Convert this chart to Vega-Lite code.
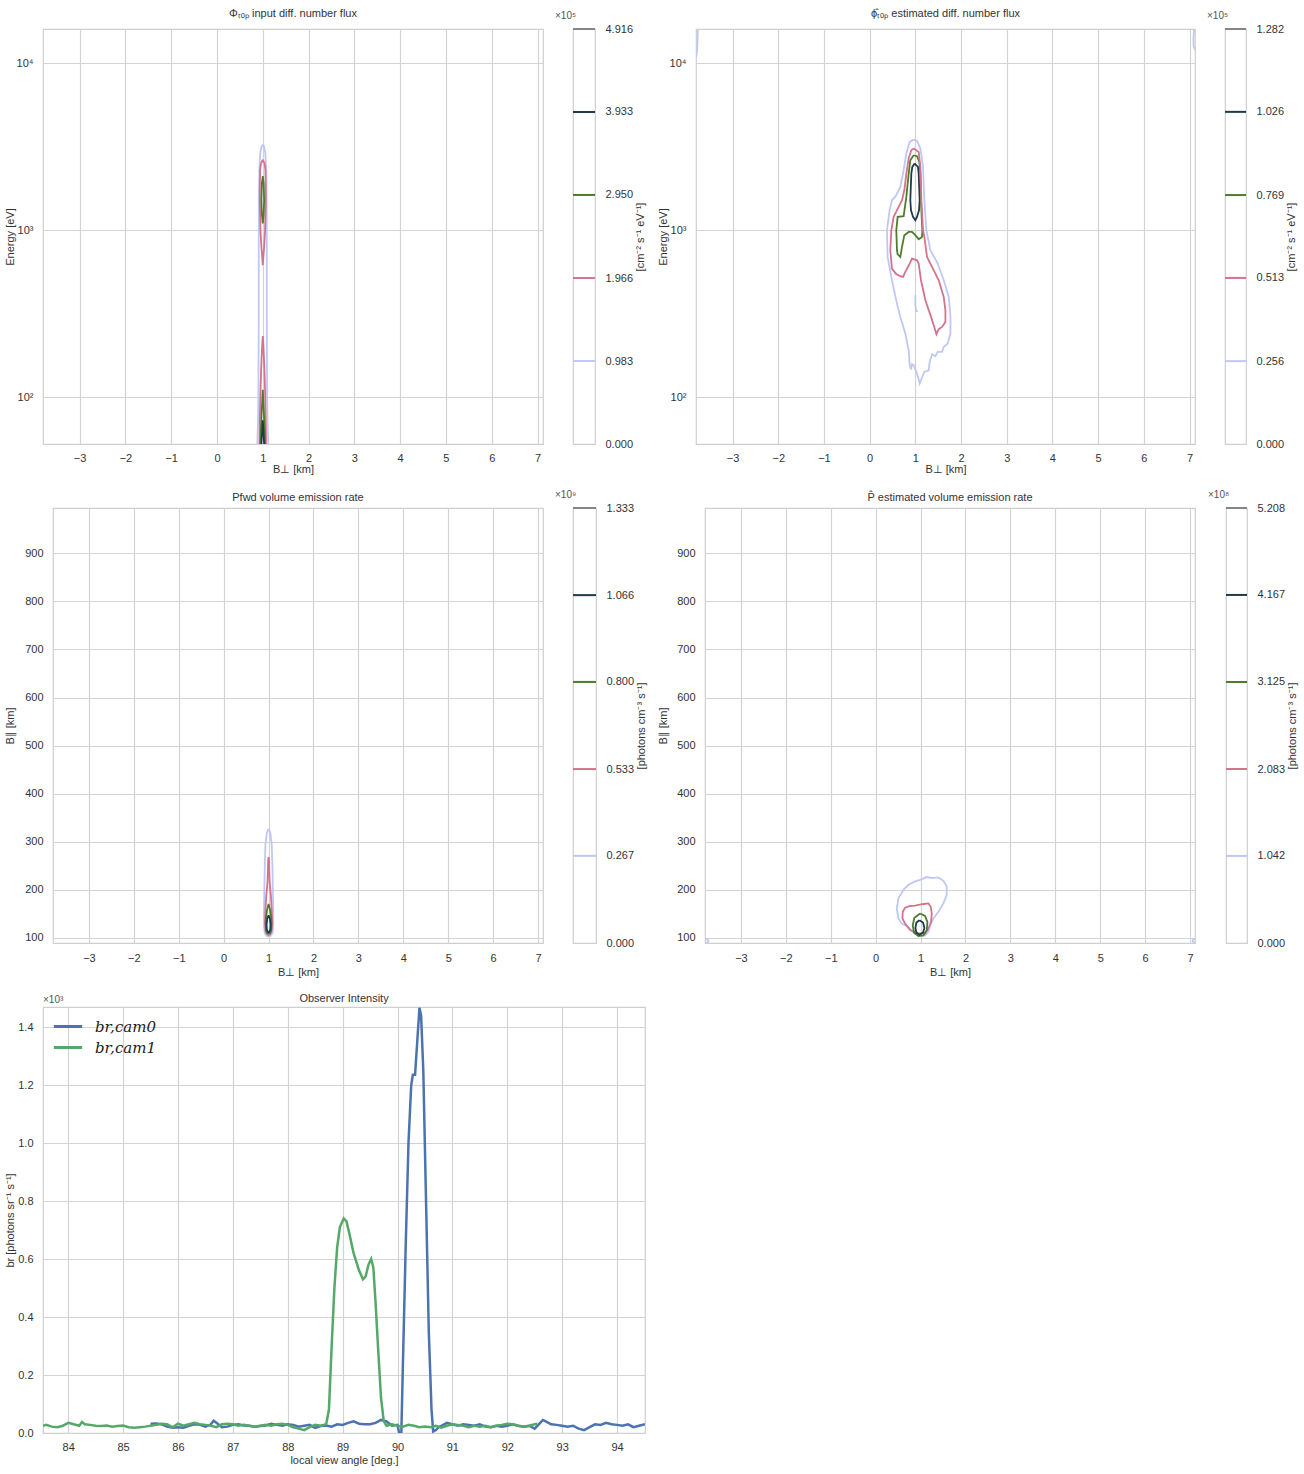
{
"$schema": "https://vega.github.io/schema/vega-lite/v6.json",
"autosize": "none",
"background": "white",
"padding": {"left": 43, "top": 29, "right": 1261, "bottom": 1445},
"config": {
 "font": "Liberation Sans",
 "view": {"stroke": "#cfcfcf", "strokeWidth": 1.2},
 "axis": {"domain": false, "ticks": false, "grid": true, "gridColor": "#d3d3d3", "gridWidth": 1.2, "labelFontSize": 11, "labelColor": "#333333", "titleFontSize": 11, "titleFontWeight": "normal", "titleColor": "#333333", "labelPadding": 8, "titlePadding": 0},
 "title": {"fontSize": 11, "fontWeight": "normal", "color": "#333333", "offset": 10}
},
"datasets": {
 "p1": [
  {"s":"L","l":"1","i":0,"x":0.88,"y":52.6},{"s":"L","l":"1","i":1,"x":0.895,"y":70},{"s":"L","l":"1","i":2,"x":0.905,"y":100},{"s":"L","l":"1","i":3,"x":0.912,"y":300},{"s":"L","l":"1","i":4,"x":0.912,"y":800},{"s":"L","l":"1","i":5,"x":0.915,"y":1500},{"s":"L","l":"1","i":6,"x":0.925,"y":2300},{"s":"L","l":"1","i":7,"x":0.945,"y":2900},{"s":"L","l":"1","i":8,"x":0.975,"y":3180},{"s":"L","l":"1","i":9,"x":1.0,"y":3230},{"s":"L","l":"1","i":10,"x":1.025,"y":3180},{"s":"L","l":"1","i":11,"x":1.055,"y":2900},{"s":"L","l":"1","i":12,"x":1.075,"y":2300},{"s":"L","l":"1","i":13,"x":1.085,"y":1500},{"s":"L","l":"1","i":14,"x":1.088,"y":800},{"s":"L","l":"1","i":15,"x":1.088,"y":300},{"s":"L","l":"1","i":16,"x":1.095,"y":100},{"s":"L","l":"1","i":17,"x":1.105,"y":70},{"s":"L","l":"1","i":18,"x":1.12,"y":52.6},
  {"s":"Pu","l":"2","i":0,"x":1.0,"y":2645},{"s":"Pu","l":"2","i":1,"x":1.04,"y":2500},{"s":"Pu","l":"2","i":2,"x":1.058,"y":2290},{"s":"Pu","l":"2","i":3,"x":1.065,"y":1800},{"s":"Pu","l":"2","i":4,"x":1.065,"y":1450},{"s":"Pu","l":"2","i":5,"x":1.055,"y":1150},{"s":"Pu","l":"2","i":6,"x":1.05,"y":1000},{"s":"Pu","l":"2","i":7,"x":1.03,"y":795},{"s":"Pu","l":"2","i":8,"x":1.01,"y":680},{"s":"Pu","l":"2","i":9,"x":1.0,"y":617},{"s":"Pu","l":"2","i":10,"x":0.99,"y":680},{"s":"Pu","l":"2","i":11,"x":0.97,"y":795},{"s":"Pu","l":"2","i":12,"x":0.95,"y":1000},{"s":"Pu","l":"2","i":13,"x":0.945,"y":1150},{"s":"Pu","l":"2","i":14,"x":0.935,"y":1450},{"s":"Pu","l":"2","i":15,"x":0.935,"y":1800},{"s":"Pu","l":"2","i":16,"x":0.942,"y":2290},{"s":"Pu","l":"2","i":17,"x":0.96,"y":2500},{"s":"Pu","l":"2","i":18,"x":1.0,"y":2645},
  {"s":"Pl","l":"2","i":0,"x":0.928,"y":52.6},{"s":"Pl","l":"2","i":1,"x":0.935,"y":73},{"s":"Pl","l":"2","i":2,"x":0.95,"y":110},{"s":"Pl","l":"2","i":3,"x":0.964,"y":146},{"s":"Pl","l":"2","i":4,"x":0.985,"y":200},{"s":"Pl","l":"2","i":5,"x":1.0,"y":233},{"s":"Pl","l":"2","i":6,"x":1.015,"y":200},{"s":"Pl","l":"2","i":7,"x":1.036,"y":146},{"s":"Pl","l":"2","i":8,"x":1.05,"y":110},{"s":"Pl","l":"2","i":9,"x":1.065,"y":73},{"s":"Pl","l":"2","i":10,"x":1.072,"y":52.6},
  {"s":"Gu","l":"3","i":0,"x":1.0,"y":2110},{"s":"Gu","l":"3","i":1,"x":1.02,"y":1900},{"s":"Gu","l":"3","i":2,"x":1.03,"y":1510},{"s":"Gu","l":"3","i":3,"x":1.02,"y":1250},{"s":"Gu","l":"3","i":4,"x":1.0,"y":1100},{"s":"Gu","l":"3","i":5,"x":0.98,"y":1250},{"s":"Gu","l":"3","i":6,"x":0.97,"y":1510},{"s":"Gu","l":"3","i":7,"x":0.98,"y":1900},{"s":"Gu","l":"3","i":8,"x":1.0,"y":2110},
  {"s":"Gl","l":"3","i":0,"x":0.95,"y":52.6},{"s":"Gl","l":"3","i":1,"x":0.96,"y":65},{"s":"Gl","l":"3","i":2,"x":0.975,"y":80},{"s":"Gl","l":"3","i":3,"x":1.0,"y":111},{"s":"Gl","l":"3","i":4,"x":1.025,"y":80},{"s":"Gl","l":"3","i":5,"x":1.04,"y":65},{"s":"Gl","l":"3","i":6,"x":1.05,"y":52.6},
  {"s":"N","l":"4","i":0,"x":0.97,"y":52.6},{"s":"N","l":"4","i":1,"x":0.985,"y":62},{"s":"N","l":"4","i":2,"x":1.0,"y":73},{"s":"N","l":"4","i":3,"x":1.015,"y":62},{"s":"N","l":"4","i":4,"x":1.03,"y":52.6}
 ],
 "p2": [
  {"s":"N","l":"4","i":0,"x":0.985,"y":2506},{"s":"N","l":"4","i":1,"x":1.058,"y":2393},{"s":"N","l":"4","i":2,"x":1.073,"y":2183},{"s":"N","l":"4","i":3,"x":1.095,"y":1512},{"s":"N","l":"4","i":4,"x":1.08,"y":1317},{"s":"N","l":"4","i":5,"x":1.037,"y":1202},{"s":"N","l":"4","i":6,"x":1.0,"y":1148},{"s":"N","l":"4","i":7,"x":0.949,"y":1202},{"s":"N","l":"4","i":8,"x":0.905,"y":1317},{"s":"N","l":"4","i":9,"x":0.89,"y":1512},{"s":"N","l":"4","i":10,"x":0.912,"y":2183},{"s":"N","l":"4","i":11,"x":0.934,"y":2393},{"s":"N","l":"4","i":12,"x":0.985,"y":2506},
  {"s":"G","l":"3","i":0,"x":0.963,"y":2810},{"s":"G","l":"3","i":1,"x":1.037,"y":2772},{"s":"G","l":"3","i":2,"x":1.088,"y":2564},{"s":"G","l":"3","i":3,"x":1.11,"y":2183},{"s":"G","l":"3","i":4,"x":1.124,"y":1512},{"s":"G","l":"3","i":5,"x":1.139,"y":1202},{"s":"G","l":"3","i":6,"x":1.154,"y":1000},{"s":"G","l":"3","i":7,"x":1.146,"y":912},{"s":"G","l":"3","i":8,"x":1.073,"y":884},{"s":"G","l":"3","i":9,"x":1.0,"y":934},{"s":"G","l":"3","i":10,"x":0.927,"y":977},{"s":"G","l":"3","i":11,"x":0.854,"y":977},{"s":"G","l":"3","i":12,"x":0.759,"y":934},{"s":"G","l":"3","i":13,"x":0.708,"y":795},{"s":"G","l":"3","i":14,"x":0.671,"y":692},{"s":"G","l":"3","i":15,"x":0.613,"y":718},{"s":"G","l":"3","i":16,"x":0.598,"y":759},{"s":"G","l":"3","i":17,"x":0.583,"y":1000},{"s":"G","l":"3","i":18,"x":0.613,"y":1202},{"s":"G","l":"3","i":19,"x":0.744,"y":1213},{"s":"G","l":"3","i":20,"x":0.803,"y":1583},{"s":"G","l":"3","i":21,"x":0.854,"y":2183},{"s":"G","l":"3","i":22,"x":0.89,"y":2624},{"s":"G","l":"3","i":23,"x":0.963,"y":2810},
  {"s":"P","l":"2","i":0,"x":0.963,"y":3081},{"s":"P","l":"2","i":1,"x":1.073,"y":2942},{"s":"P","l":"2","i":2,"x":1.11,"y":2393},{"s":"P","l":"2","i":3,"x":1.132,"y":1512},{"s":"P","l":"2","i":4,"x":1.168,"y":1000},{"s":"P","l":"2","i":5,"x":1.197,"y":912},{"s":"P","l":"2","i":6,"x":1.256,"y":692},{"s":"P","l":"2","i":7,"x":1.365,"y":604},{"s":"P","l":"2","i":8,"x":1.512,"y":502},{"s":"P","l":"2","i":9,"x":1.621,"y":399},{"s":"P","l":"2","i":10,"x":1.658,"y":332},{"s":"P","l":"2","i":11,"x":1.658,"y":283},{"s":"P","l":"2","i":12,"x":1.585,"y":264},{"s":"P","l":"2","i":13,"x":1.512,"y":256},{"s":"P","l":"2","i":14,"x":1.461,"y":239},{"s":"P","l":"2","i":15,"x":1.402,"y":270},{"s":"P","l":"2","i":16,"x":1.344,"y":303},{"s":"P","l":"2","i":17,"x":1.219,"y":381},{"s":"P","l":"2","i":18,"x":1.124,"y":502},{"s":"P","l":"2","i":19,"x":1.073,"y":632},{"s":"P","l":"2","i":20,"x":1.037,"y":661},{"s":"P","l":"2","i":21,"x":0.927,"y":677},{"s":"P","l":"2","i":22,"x":0.876,"y":632},{"s":"P","l":"2","i":23,"x":0.781,"y":563},{"s":"P","l":"2","i":24,"x":0.73,"y":526},{"s":"P","l":"2","i":25,"x":0.671,"y":531},{"s":"P","l":"2","i":26,"x":0.583,"y":546},{"s":"P","l":"2","i":27,"x":0.488,"y":590},{"s":"P","l":"2","i":28,"x":0.452,"y":759},{"s":"P","l":"2","i":29,"x":0.474,"y":1000},{"s":"P","l":"2","i":30,"x":0.525,"y":1202},{"s":"P","l":"2","i":31,"x":0.635,"y":1379},{"s":"P","l":"2","i":32,"x":0.708,"y":1512},{"s":"P","l":"2","i":33,"x":0.759,"y":1735},{"s":"P","l":"2","i":34,"x":0.803,"y":2183},{"s":"P","l":"2","i":35,"x":0.854,"y":2685},{"s":"P","l":"2","i":36,"x":0.912,"y":3011},{"s":"P","l":"2","i":37,"x":0.963,"y":3081},
  {"s":"L","l":"1","i":0,"x":0.963,"y":3487},{"s":"L","l":"1","i":1,"x":1.037,"y":3424},{"s":"L","l":"1","i":2,"x":1.11,"y":3081},{"s":"L","l":"1","i":3,"x":1.168,"y":2393},{"s":"L","l":"1","i":4,"x":1.197,"y":1512},{"s":"L","l":"1","i":5,"x":1.241,"y":1000},{"s":"L","l":"1","i":6,"x":1.329,"y":759},{"s":"L","l":"1","i":7,"x":1.49,"y":632},{"s":"L","l":"1","i":8,"x":1.621,"y":502},{"s":"L","l":"1","i":9,"x":1.731,"y":399},{"s":"L","l":"1","i":10,"x":1.768,"y":303},{"s":"L","l":"1","i":11,"x":1.768,"y":241},{"s":"L","l":"1","i":12,"x":1.709,"y":210},{"s":"L","l":"1","i":13,"x":1.621,"y":200},{"s":"L","l":"1","i":14,"x":1.585,"y":187},{"s":"L","l":"1","i":15,"x":1.49,"y":187},{"s":"L","l":"1","i":16,"x":1.439,"y":176},{"s":"L","l":"1","i":17,"x":1.365,"y":181},{"s":"L","l":"1","i":18,"x":1.314,"y":163},{"s":"L","l":"1","i":19,"x":1.292,"y":145},{"s":"L","l":"1","i":20,"x":1.197,"y":142},{"s":"L","l":"1","i":21,"x":1.124,"y":127},{"s":"L","l":"1","i":22,"x":1.095,"y":121},{"s":"L","l":"1","i":23,"x":1.058,"y":133},{"s":"L","l":"1","i":24,"x":1.022,"y":142},{"s":"L","l":"1","i":25,"x":0.963,"y":156},{"s":"L","l":"1","i":26,"x":0.927,"y":158},{"s":"L","l":"1","i":27,"x":0.905,"y":147},{"s":"L","l":"1","i":28,"x":0.876,"y":156},{"s":"L","l":"1","i":29,"x":0.854,"y":191},{"s":"L","l":"1","i":30,"x":0.781,"y":241},{"s":"L","l":"1","i":31,"x":0.671,"y":303},{"s":"L","l":"1","i":32,"x":0.598,"y":364},{"s":"L","l":"1","i":33,"x":0.488,"y":502},{"s":"L","l":"1","i":34,"x":0.393,"y":692},{"s":"L","l":"1","i":35,"x":0.379,"y":1000},{"s":"L","l":"1","i":36,"x":0.437,"y":1317},{"s":"L","l":"1","i":37,"x":0.488,"y":1512},{"s":"L","l":"1","i":38,"x":0.561,"y":1583},{"s":"L","l":"1","i":39,"x":0.671,"y":1817},{"s":"L","l":"1","i":40,"x":0.744,"y":2286},{"s":"L","l":"1","i":41,"x":0.803,"y":2876},{"s":"L","l":"1","i":42,"x":0.876,"y":3377},{"s":"L","l":"1","i":43,"x":0.963,"y":3487},
  {"s":"Ls","l":"1","i":0,"x":1.0,"y":408},{"s":"Ls","l":"1","i":1,"x":1.0,"y":356},{"s":"Ls","l":"1","i":2,"x":1.015,"y":329},{"s":"Ls","l":"1","i":3,"x":1.058,"y":327},
  {"s":"Lc1","l":"1","i":0,"x":-3.76,"y":16000},{"s":"Lc1","l":"1","i":1,"x":-3.765,"y":14000},{"s":"Lc1","l":"1","i":2,"x":-3.78,"y":11500},{"s":"Lc1","l":"1","i":3,"x":-3.8,"y":10800},
  {"s":"Lc2","l":"1","i":0,"x":7.1,"y":16000},{"s":"Lc2","l":"1","i":1,"x":7.085,"y":14000},{"s":"Lc2","l":"1","i":2,"x":7.09,"y":12600},{"s":"Lc2","l":"1","i":3,"x":7.12,"y":12000}
 ],
 "p3": [
  {"s":"L","l":"1","i":0,"x":1.0,"y":327},{"s":"L","l":"1","i":1,"x":1.04,"y":318},{"s":"L","l":"1","i":2,"x":1.07,"y":295},{"s":"L","l":"1","i":3,"x":1.085,"y":250},{"s":"L","l":"1","i":4,"x":1.095,"y":200},{"s":"L","l":"1","i":5,"x":1.105,"y":150},{"s":"L","l":"1","i":6,"x":1.105,"y":125},{"s":"L","l":"1","i":7,"x":1.085,"y":110},{"s":"L","l":"1","i":8,"x":1.04,"y":104},{"s":"L","l":"1","i":9,"x":1.0,"y":103},{"s":"L","l":"1","i":10,"x":0.96,"y":104},{"s":"L","l":"1","i":11,"x":0.915,"y":110},{"s":"L","l":"1","i":12,"x":0.895,"y":125},{"s":"L","l":"1","i":13,"x":0.895,"y":150},{"s":"L","l":"1","i":14,"x":0.905,"y":200},{"s":"L","l":"1","i":15,"x":0.915,"y":250},{"s":"L","l":"1","i":16,"x":0.93,"y":295},{"s":"L","l":"1","i":17,"x":0.96,"y":318},{"s":"L","l":"1","i":18,"x":1.0,"y":327},
  {"s":"P","l":"2","i":0,"x":1.0,"y":268},{"s":"P","l":"2","i":1,"x":1.01,"y":262},{"s":"P","l":"2","i":2,"x":1.015,"y":240},{"s":"P","l":"2","i":3,"x":1.025,"y":215},{"s":"P","l":"2","i":4,"x":1.05,"y":190},{"s":"P","l":"2","i":5,"x":1.07,"y":160},{"s":"P","l":"2","i":6,"x":1.08,"y":135},{"s":"P","l":"2","i":7,"x":1.07,"y":115},{"s":"P","l":"2","i":8,"x":1.04,"y":108},{"s":"P","l":"2","i":9,"x":1.0,"y":106},{"s":"P","l":"2","i":10,"x":0.96,"y":108},{"s":"P","l":"2","i":11,"x":0.93,"y":115},{"s":"P","l":"2","i":12,"x":0.92,"y":135},{"s":"P","l":"2","i":13,"x":0.93,"y":160},{"s":"P","l":"2","i":14,"x":0.95,"y":190},{"s":"P","l":"2","i":15,"x":0.975,"y":215},{"s":"P","l":"2","i":16,"x":0.985,"y":240},{"s":"P","l":"2","i":17,"x":0.99,"y":262},{"s":"P","l":"2","i":18,"x":1.0,"y":268},
  {"s":"G","l":"3","i":0,"x":1.0,"y":171},{"s":"G","l":"3","i":1,"x":1.03,"y":160},{"s":"G","l":"3","i":2,"x":1.055,"y":145},{"s":"G","l":"3","i":3,"x":1.065,"y":130},{"s":"G","l":"3","i":4,"x":1.055,"y":115},{"s":"G","l":"3","i":5,"x":1.03,"y":110},{"s":"G","l":"3","i":6,"x":1.0,"y":109},{"s":"G","l":"3","i":7,"x":0.97,"y":110},{"s":"G","l":"3","i":8,"x":0.945,"y":115},{"s":"G","l":"3","i":9,"x":0.935,"y":130},{"s":"G","l":"3","i":10,"x":0.945,"y":145},{"s":"G","l":"3","i":11,"x":0.97,"y":160},{"s":"G","l":"3","i":12,"x":1.0,"y":171},
  {"s":"N","l":"4","i":0,"x":1.0,"y":147},{"s":"N","l":"4","i":1,"x":1.03,"y":140},{"s":"N","l":"4","i":2,"x":1.045,"y":128},{"s":"N","l":"4","i":3,"x":1.04,"y":118},{"s":"N","l":"4","i":4,"x":1.02,"y":113},{"s":"N","l":"4","i":5,"x":1.0,"y":112},{"s":"N","l":"4","i":6,"x":0.98,"y":113},{"s":"N","l":"4","i":7,"x":0.96,"y":118},{"s":"N","l":"4","i":8,"x":0.955,"y":128},{"s":"N","l":"4","i":9,"x":0.97,"y":140},{"s":"N","l":"4","i":10,"x":1.0,"y":147}
 ],
 "p4": [
  {"s":"L","l":"1","i":0,"x":0.989,"y":104.2},{"s":"L","l":"1","i":1,"x":0.951,"y":105.5},{"s":"L","l":"1","i":2,"x":0.84,"y":111.1},{"s":"L","l":"1","i":3,"x":0.729,"y":123.1},{"s":"L","l":"1","i":4,"x":0.581,"y":130},{"s":"L","l":"1","i":5,"x":0.507,"y":140.5},{"s":"L","l":"1","i":6,"x":0.47,"y":161.5},{"s":"L","l":"1","i":7,"x":0.507,"y":182.6},{"s":"L","l":"1","i":8,"x":0.617,"y":200},{"s":"L","l":"1","i":9,"x":0.729,"y":210.5},{"s":"L","l":"1","i":10,"x":0.877,"y":217.6},{"s":"L","l":"1","i":11,"x":0.989,"y":221},{"s":"L","l":"1","i":12,"x":1.138,"y":226.7},{"s":"L","l":"1","i":13,"x":1.249,"y":224.6},{"s":"L","l":"1","i":14,"x":1.397,"y":226},{"s":"L","l":"1","i":15,"x":1.508,"y":218.9},{"s":"L","l":"1","i":16,"x":1.583,"y":207},{"s":"L","l":"1","i":17,"x":1.583,"y":189.5},{"s":"L","l":"1","i":18,"x":1.508,"y":172},{"s":"L","l":"1","i":19,"x":1.397,"y":154.6},{"s":"L","l":"1","i":20,"x":1.286,"y":140.5},{"s":"L","l":"1","i":21,"x":1.212,"y":126.5},{"s":"L","l":"1","i":22,"x":1.174,"y":112.6},{"s":"L","l":"1","i":23,"x":1.1,"y":105.5},{"s":"L","l":"1","i":24,"x":0.989,"y":104.2},
  {"s":"P","l":"2","i":0,"x":0.951,"y":109.7},{"s":"P","l":"2","i":1,"x":0.766,"y":116.7},{"s":"P","l":"2","i":2,"x":0.655,"y":130},{"s":"P","l":"2","i":3,"x":0.596,"y":140.5},{"s":"P","l":"2","i":4,"x":0.603,"y":154.6},{"s":"P","l":"2","i":5,"x":0.655,"y":163},{"s":"P","l":"2","i":6,"x":0.766,"y":166.5},{"s":"P","l":"2","i":7,"x":0.877,"y":167.2},{"s":"P","l":"2","i":8,"x":1.063,"y":170.7},{"s":"P","l":"2","i":9,"x":1.174,"y":172},{"s":"P","l":"2","i":10,"x":1.226,"y":165},{"s":"P","l":"2","i":11,"x":1.249,"y":151},{"s":"P","l":"2","i":12,"x":1.234,"y":133.5},{"s":"P","l":"2","i":13,"x":1.174,"y":119.5},{"s":"P","l":"2","i":14,"x":1.1,"y":109.7},{"s":"P","l":"2","i":15,"x":0.951,"y":109.7},
  {"s":"G","l":"3","i":0,"x":0.989,"y":151},{"s":"G","l":"3","i":1,"x":1.1,"y":146.1},{"s":"G","l":"3","i":2,"x":1.152,"y":133.5},{"s":"G","l":"3","i":3,"x":1.138,"y":116},{"s":"G","l":"3","i":4,"x":1.063,"y":105.5},{"s":"G","l":"3","i":5,"x":0.951,"y":104.2},{"s":"G","l":"3","i":6,"x":0.855,"y":111.1},{"s":"G","l":"3","i":7,"x":0.825,"y":126.5},{"s":"G","l":"3","i":8,"x":0.862,"y":141.9},{"s":"G","l":"3","i":9,"x":0.989,"y":151},
  {"s":"N","l":"4","i":0,"x":0.973,"y":137},{"s":"N","l":"4","i":1,"x":1.055,"y":132.1},{"s":"N","l":"4","i":2,"x":1.085,"y":120.9},{"s":"N","l":"4","i":3,"x":1.055,"y":111.1},{"s":"N","l":"4","i":4,"x":0.973,"y":106.9},{"s":"N","l":"4","i":5,"x":0.907,"y":111.1},{"s":"N","l":"4","i":6,"x":0.885,"y":120.9},{"s":"N","l":"4","i":7,"x":0.907,"y":132.1},{"s":"N","l":"4","i":8,"x":0.973,"y":137},
  {"s":"Lc1","l":"1","i":0,"x":-3.8,"y":99},{"s":"Lc1","l":"1","i":1,"x":-3.74,"y":97},{"s":"Lc1","l":"1","i":2,"x":-3.72,"y":93},{"s":"Lc1","l":"1","i":3,"x":-3.76,"y":90},{"s":"Lc1","l":"1","i":4,"x":-3.8,"y":89.6},
  {"s":"Lc2","l":"1","i":0,"x":7.12,"y":99},{"s":"Lc2","l":"1","i":1,"x":7.07,"y":97},{"s":"Lc2","l":"1","i":2,"x":7.06,"y":93},{"s":"Lc2","l":"1","i":3,"x":7.1,"y":90},{"s":"Lc2","l":"1","i":4,"x":7.12,"y":89.6}
 ],
 "cb1": [{"v":0.983,"l":"1"},{"v":1.966,"l":"2"},{"v":2.95,"l":"3"},{"v":3.933,"l":"4"},{"v":4.916,"l":"5"}],
 "cb2": [{"v":0.256,"l":"1"},{"v":0.513,"l":"2"},{"v":0.769,"l":"3"},{"v":1.026,"l":"4"},{"v":1.282,"l":"5"}],
 "cb3": [{"v":0.267,"l":"1"},{"v":0.533,"l":"2"},{"v":0.8,"l":"3"},{"v":1.066,"l":"4"},{"v":1.333,"l":"5"}],
 "cb4": [{"v":1.042,"l":"1"},{"v":2.083,"l":"2"},{"v":3.125,"l":"3"},{"v":4.167,"l":"4"},{"v":5.208,"l":"5"}],
 "p5": [
  {"c":"br,cam0","x":85.5,"y":0.032},{"c":"br,cam0","x":85.6,"y":0.033},{"c":"br,cam0","x":85.7,"y":0.03},{"c":"br,cam0","x":85.8,"y":0.022},{"c":"br,cam0","x":85.9,"y":0.018},{"c":"br,cam0","x":86.0,"y":0.02},{"c":"br,cam0","x":86.1,"y":0.018},{"c":"br,cam0","x":86.2,"y":0.025},{"c":"br,cam0","x":86.3,"y":0.03},{"c":"br,cam0","x":86.4,"y":0.028},{"c":"br,cam0","x":86.5,"y":0.022},{"c":"br,cam0","x":86.6,"y":0.03},{"c":"br,cam0","x":86.65,"y":0.042},{"c":"br,cam0","x":86.7,"y":0.035},{"c":"br,cam0","x":86.8,"y":0.02},{"c":"br,cam0","x":86.9,"y":0.022},{"c":"br,cam0","x":87.0,"y":0.028},{"c":"br,cam0","x":87.1,"y":0.03},{"c":"br,cam0","x":87.2,"y":0.026},{"c":"br,cam0","x":87.3,"y":0.025},{"c":"br,cam0","x":87.4,"y":0.022},{"c":"br,cam0","x":87.5,"y":0.024},{"c":"br,cam0","x":87.6,"y":0.026},{"c":"br,cam0","x":87.7,"y":0.032},{"c":"br,cam0","x":87.8,"y":0.028},{"c":"br,cam0","x":87.9,"y":0.025},{"c":"br,cam0","x":88.0,"y":0.03},{"c":"br,cam0","x":88.1,"y":0.028},{"c":"br,cam0","x":88.2,"y":0.022},{"c":"br,cam0","x":88.3,"y":0.025},{"c":"br,cam0","x":88.4,"y":0.028},{"c":"br,cam0","x":88.5,"y":0.018},{"c":"br,cam0","x":88.6,"y":0.024},{"c":"br,cam0","x":88.7,"y":0.026},{"c":"br,cam0","x":88.8,"y":0.022},{"c":"br,cam0","x":88.9,"y":0.03},{"c":"br,cam0","x":89.0,"y":0.028},{"c":"br,cam0","x":89.1,"y":0.035},{"c":"br,cam0","x":89.2,"y":0.04},{"c":"br,cam0","x":89.3,"y":0.032},{"c":"br,cam0","x":89.4,"y":0.03},{"c":"br,cam0","x":89.5,"y":0.03},{"c":"br,cam0","x":89.6,"y":0.035},{"c":"br,cam0","x":89.7,"y":0.045},{"c":"br,cam0","x":89.8,"y":0.04},{"c":"br,cam0","x":89.9,"y":0.025},{"c":"br,cam0","x":90.0,"y":0.028},{"c":"br,cam0","x":90.03,"y":0.0},{"c":"br,cam0","x":90.07,"y":0.0},{"c":"br,cam0","x":90.1,"y":0.25},{"c":"br,cam0","x":90.15,"y":0.65},{"c":"br,cam0","x":90.2,"y":1.0},{"c":"br,cam0","x":90.25,"y":1.2},{"c":"br,cam0","x":90.28,"y":1.235},{"c":"br,cam0","x":90.32,"y":1.235},{"c":"br,cam0","x":90.36,"y":1.35},{"c":"br,cam0","x":90.4,"y":1.466},{"c":"br,cam0","x":90.43,"y":1.44},{"c":"br,cam0","x":90.47,"y":1.25},{"c":"br,cam0","x":90.52,"y":0.8},{"c":"br,cam0","x":90.57,"y":0.35},{"c":"br,cam0","x":90.62,"y":0.08},{"c":"br,cam0","x":90.65,"y":0.005},{"c":"br,cam0","x":90.7,"y":0.01},{"c":"br,cam0","x":90.75,"y":0.02},{"c":"br,cam0","x":90.8,"y":0.025},{"c":"br,cam0","x":90.9,"y":0.035},{"c":"br,cam0","x":91.0,"y":0.03},{"c":"br,cam0","x":91.1,"y":0.025},{"c":"br,cam0","x":91.2,"y":0.03},{"c":"br,cam0","x":91.3,"y":0.028},{"c":"br,cam0","x":91.4,"y":0.025},{"c":"br,cam0","x":91.5,"y":0.03},{"c":"br,cam0","x":91.6,"y":0.022},{"c":"br,cam0","x":91.7,"y":0.02},{"c":"br,cam0","x":91.8,"y":0.025},{"c":"br,cam0","x":91.9,"y":0.022},{"c":"br,cam0","x":92.0,"y":0.025},{"c":"br,cam0","x":92.1,"y":0.03},{"c":"br,cam0","x":92.2,"y":0.025},{"c":"br,cam0","x":92.3,"y":0.022},{"c":"br,cam0","x":92.4,"y":0.025},{"c":"br,cam0","x":92.5,"y":0.015},{"c":"br,cam0","x":92.6,"y":0.035},{"c":"br,cam0","x":92.65,"y":0.045},{"c":"br,cam0","x":92.7,"y":0.04},{"c":"br,cam0","x":92.8,"y":0.03},{"c":"br,cam0","x":92.9,"y":0.028},{"c":"br,cam0","x":93.0,"y":0.025},{"c":"br,cam0","x":93.1,"y":0.022},{"c":"br,cam0","x":93.2,"y":0.025},{"c":"br,cam0","x":93.3,"y":0.015},{"c":"br,cam0","x":93.4,"y":0.01},{"c":"br,cam0","x":93.5,"y":0.02},{"c":"br,cam0","x":93.6,"y":0.03},{"c":"br,cam0","x":93.7,"y":0.028},{"c":"br,cam0","x":93.8,"y":0.035},{"c":"br,cam0","x":93.9,"y":0.03},{"c":"br,cam0","x":94.0,"y":0.028},{"c":"br,cam0","x":94.1,"y":0.025},{"c":"br,cam0","x":94.2,"y":0.03},{"c":"br,cam0","x":94.3,"y":0.02},{"c":"br,cam0","x":94.4,"y":0.025},{"c":"br,cam0","x":94.51,"y":0.03},
  {"c":"br,cam1","x":83.54,"y":0.025},{"c":"br,cam1","x":83.6,"y":0.028},{"c":"br,cam1","x":83.7,"y":0.022},{"c":"br,cam1","x":83.8,"y":0.02},{"c":"br,cam1","x":83.9,"y":0.025},{"c":"br,cam1","x":84.0,"y":0.035},{"c":"br,cam1","x":84.1,"y":0.03},{"c":"br,cam1","x":84.2,"y":0.025},{"c":"br,cam1","x":84.25,"y":0.038},{"c":"br,cam1","x":84.3,"y":0.03},{"c":"br,cam1","x":84.4,"y":0.028},{"c":"br,cam1","x":84.5,"y":0.025},{"c":"br,cam1","x":84.6,"y":0.024},{"c":"br,cam1","x":84.7,"y":0.026},{"c":"br,cam1","x":84.8,"y":0.022},{"c":"br,cam1","x":84.9,"y":0.024},{"c":"br,cam1","x":85.0,"y":0.026},{"c":"br,cam1","x":85.1,"y":0.02},{"c":"br,cam1","x":85.2,"y":0.018},{"c":"br,cam1","x":85.3,"y":0.02},{"c":"br,cam1","x":85.4,"y":0.022},{"c":"br,cam1","x":85.5,"y":0.025},{"c":"br,cam1","x":85.6,"y":0.028},{"c":"br,cam1","x":85.7,"y":0.032},{"c":"br,cam1","x":85.8,"y":0.03},{"c":"br,cam1","x":85.9,"y":0.02},{"c":"br,cam1","x":86.0,"y":0.032},{"c":"br,cam1","x":86.1,"y":0.025},{"c":"br,cam1","x":86.2,"y":0.03},{"c":"br,cam1","x":86.3,"y":0.035},{"c":"br,cam1","x":86.4,"y":0.03},{"c":"br,cam1","x":86.5,"y":0.028},{"c":"br,cam1","x":86.6,"y":0.025},{"c":"br,cam1","x":86.7,"y":0.02},{"c":"br,cam1","x":86.8,"y":0.03},{"c":"br,cam1","x":86.9,"y":0.032},{"c":"br,cam1","x":87.0,"y":0.03},{"c":"br,cam1","x":87.1,"y":0.025},{"c":"br,cam1","x":87.2,"y":0.028},{"c":"br,cam1","x":87.3,"y":0.025},{"c":"br,cam1","x":87.4,"y":0.022},{"c":"br,cam1","x":87.5,"y":0.025},{"c":"br,cam1","x":87.6,"y":0.028},{"c":"br,cam1","x":87.7,"y":0.025},{"c":"br,cam1","x":87.8,"y":0.03},{"c":"br,cam1","x":87.9,"y":0.032},{"c":"br,cam1","x":88.0,"y":0.028},{"c":"br,cam1","x":88.1,"y":0.02},{"c":"br,cam1","x":88.2,"y":0.015},{"c":"br,cam1","x":88.3,"y":0.01},{"c":"br,cam1","x":88.4,"y":0.02},{"c":"br,cam1","x":88.5,"y":0.028},{"c":"br,cam1","x":88.6,"y":0.025},{"c":"br,cam1","x":88.7,"y":0.03},{"c":"br,cam1","x":88.75,"y":0.08},{"c":"br,cam1","x":88.8,"y":0.3},{"c":"br,cam1","x":88.85,"y":0.5},{"c":"br,cam1","x":88.9,"y":0.64},{"c":"br,cam1","x":88.95,"y":0.71},{"c":"br,cam1","x":89.02,"y":0.74},{"c":"br,cam1","x":89.07,"y":0.73},{"c":"br,cam1","x":89.12,"y":0.69},{"c":"br,cam1","x":89.2,"y":0.62},{"c":"br,cam1","x":89.3,"y":0.56},{"c":"br,cam1","x":89.37,"y":0.53},{"c":"br,cam1","x":89.42,"y":0.54},{"c":"br,cam1","x":89.47,"y":0.58},{"c":"br,cam1","x":89.52,"y":0.6},{"c":"br,cam1","x":89.56,"y":0.57},{"c":"br,cam1","x":89.6,"y":0.45},{"c":"br,cam1","x":89.65,"y":0.28},{"c":"br,cam1","x":89.7,"y":0.12},{"c":"br,cam1","x":89.75,"y":0.04},{"c":"br,cam1","x":89.8,"y":0.025},{"c":"br,cam1","x":89.9,"y":0.03},{"c":"br,cam1","x":90.0,"y":0.025},{"c":"br,cam1","x":90.1,"y":0.022},{"c":"br,cam1","x":90.2,"y":0.028},{"c":"br,cam1","x":90.3,"y":0.025},{"c":"br,cam1","x":90.4,"y":0.02},{"c":"br,cam1","x":90.5,"y":0.022},{"c":"br,cam1","x":90.6,"y":0.02},{"c":"br,cam1","x":90.7,"y":0.025},{"c":"br,cam1","x":90.8,"y":0.018},{"c":"br,cam1","x":90.9,"y":0.025},{"c":"br,cam1","x":91.0,"y":0.03},{"c":"br,cam1","x":91.1,"y":0.028},{"c":"br,cam1","x":91.2,"y":0.025},{"c":"br,cam1","x":91.3,"y":0.02},{"c":"br,cam1","x":91.4,"y":0.025},{"c":"br,cam1","x":91.5,"y":0.022},{"c":"br,cam1","x":91.6,"y":0.025},{"c":"br,cam1","x":91.7,"y":0.02},{"c":"br,cam1","x":91.8,"y":0.025},{"c":"br,cam1","x":91.9,"y":0.028},{"c":"br,cam1","x":92.0,"y":0.032},{"c":"br,cam1","x":92.1,"y":0.03},{"c":"br,cam1","x":92.2,"y":0.025},{"c":"br,cam1","x":92.3,"y":0.022},{"c":"br,cam1","x":92.4,"y":0.025},{"c":"br,cam1","x":92.5,"y":0.03},{"c":"br,cam1","x":92.55,"y":0.032}
 ]
},
"resolve": {"legend": {"stroke": "independent"}},
"spacing": 14,
"vconcat": [
 {
  "bounds": "flush",
  "spacing": 9,
  "hconcat": [
   {
    "width": 500, "height": 415,
    "title": {"text": "Φₜₒₚ input diff. number flux", "offset": 10},
    "data": {"name": "p1"},
    "mark": {"type": "line", "clip": true, "strokeWidth": 1.8},
    "encoding": {
     "x": {"field": "x", "type": "quantitative", "scale": {"domain": [-3.8, 7.12], "nice": false, "zero": false}, "axis": {"values": [-3,-2,-1,0,1,2,3,4,5,6,7], "format": "d", "title": "B⊥ [km]", "labelPadding": 8, "titlePadding": 0}},
     "y": {"field": "y", "type": "quantitative", "scale": {"type": "log", "domain": [52.6, 16000], "nice": false}, "axis": {"values": [100, 1000, 10000], "labelExpr": "datum.value == 10000 ? '10⁴' : datum.value == 1000 ? '10³' : '10²'", "title": "Energy [eV]", "labelPadding": 10, "titleX": -28}},
     "color": {"field": "l", "type": "nominal", "scale": {"domain": ["1","2","3","4","5"], "range": ["#bfc8f4","#d4738c","#4f7b2d","#1c3c4c","#858585"]}, "legend": null},
     "detail": {"field": "s"},
     "order": {"field": "i", "type": "quantitative"}
    }
   },
   {"width": 12, "height": 415, "view": {"stroke": null}, "data": {"values": [{"a": 0}]}, "mark": {"type": "point", "opacity": 0}},
   {
    "width": 22, "height": 415,
    "title": {"text": "×10⁵", "anchor": "start", "dx": -17, "fontSize": 10, "offset": 2, "color": "#555555"},
    "data": {"name": "cb1"},
    "mark": {"type": "rule", "strokeWidth": 2},
    "encoding": {
     "y": {"field": "v", "type": "quantitative", "scale": {"domain": [0, 4.916], "nice": false, "zero": false}, "axis": {"orient": "right", "values": [0, 0.983, 1.966, 2.95, 3.933, 4.916], "format": ".3f", "grid": false, "labelPadding": 10, "title": "[cm⁻² s⁻¹ eV⁻¹]", "titleAngle": 270, "titlePadding": 13}},
     "color": {"field": "l", "type": "nominal", "scale": {"domain": ["1","2","3","4","5"], "range": ["#bfc8f4","#d4738c","#4f7b2d","#1c3c4c","#858585"]}, "legend": null}
    }
   },
   {"width": 83, "height": 415, "view": {"stroke": null}, "data": {"values": [{"a": 0}]}, "mark": {"type": "point", "opacity": 0}},
   {
    "width": 499, "height": 415,
    "title": {"text": "ϕ̂ₜₒₚ estimated diff. number flux", "offset": 10},
    "data": {"name": "p2"},
    "mark": {"type": "line", "clip": true, "strokeWidth": 1.8},
    "encoding": {
     "x": {"field": "x", "type": "quantitative", "scale": {"domain": [-3.8, 7.12], "nice": false, "zero": false}, "axis": {"values": [-3,-2,-1,0,1,2,3,4,5,6,7], "format": "d", "title": "B⊥ [km]", "labelPadding": 8, "titlePadding": 0}},
     "y": {"field": "y", "type": "quantitative", "scale": {"type": "log", "domain": [52.6, 16000], "nice": false}, "axis": {"values": [100, 1000, 10000], "labelExpr": "datum.value == 10000 ? '10⁴' : datum.value == 1000 ? '10³' : '10²'", "title": "Energy [eV]", "labelPadding": 10, "titleX": -28}},
     "color": {"field": "l", "type": "nominal", "scale": {"domain": ["1","2","3","4","5"], "range": ["#bfc8f4","#d4738c","#4f7b2d","#1c3c4c","#858585"]}, "legend": null},
     "detail": {"field": "s"},
     "order": {"field": "i", "type": "quantitative"}
    }
   },
   {"width": 12, "height": 415, "view": {"stroke": null}, "data": {"values": [{"a": 0}]}, "mark": {"type": "point", "opacity": 0}},
   {
    "width": 21, "height": 415,
    "title": {"text": "×10⁵", "anchor": "start", "dx": -17, "fontSize": 10, "offset": 2, "color": "#555555"},
    "data": {"name": "cb2"},
    "mark": {"type": "rule", "strokeWidth": 2},
    "encoding": {
     "y": {"field": "v", "type": "quantitative", "scale": {"domain": [0, 1.282], "nice": false, "zero": false}, "axis": {"orient": "right", "values": [0, 0.256, 0.513, 0.769, 1.026, 1.282], "format": ".3f", "grid": false, "labelPadding": 10, "title": "[cm⁻² s⁻¹ eV⁻¹]", "titleAngle": 270, "titlePadding": 13}},
     "color": {"field": "l", "type": "nominal", "scale": {"domain": ["1","2","3","4","5"], "range": ["#bfc8f4","#d4738c","#4f7b2d","#1c3c4c","#858585"]}, "legend": null}
    }
   }
  ]
 },
 {
  "bounds": "flush",
  "spacing": 9,
  "hconcat": [
   {"width": 1, "height": 435, "view": {"stroke": null}, "data": {"values": [{"a": 0}]}, "mark": {"type": "point", "opacity": 0}},
   {
    "width": 490, "height": 435,
    "title": {"text": "Pfwd volume emission rate", "offset": 5},
    "data": {"name": "p3"},
    "mark": {"type": "line", "clip": true, "strokeWidth": 1.8},
    "encoding": {
     "x": {"field": "x", "type": "quantitative", "scale": {"domain": [-3.8, 7.11], "nice": false, "zero": false}, "axis": {"values": [-3,-2,-1,0,1,2,3,4,5,6,7], "format": "d", "title": "B⊥ [km]", "labelPadding": 9, "titlePadding": 3}},
     "y": {"field": "y", "type": "quantitative", "scale": {"domain": [89.6, 994], "nice": false, "zero": false}, "axis": {"values": [100,200,300,400,500,600,700,800,900], "title": "B∥ [km]", "labelPadding": 10, "titleX": -38}},
     "color": {"field": "l", "type": "nominal", "scale": {"domain": ["1","2","3","4","5"], "range": ["#bfc8f4","#d4738c","#4f7b2d","#1c3c4c","#858585"]}, "legend": null},
     "detail": {"field": "s"},
     "order": {"field": "i", "type": "quantitative"}
    }
   },
   {"width": 12, "height": 435, "view": {"stroke": null}, "data": {"values": [{"a": 0}]}, "mark": {"type": "point", "opacity": 0}},
   {
    "width": 23, "height": 435,
    "title": {"text": "×10⁹", "anchor": "start", "dx": -17, "fontSize": 10, "offset": 2, "color": "#555555"},
    "data": {"name": "cb3"},
    "mark": {"type": "rule", "strokeWidth": 2},
    "encoding": {
     "y": {"field": "v", "type": "quantitative", "scale": {"domain": [0, 1.333], "nice": false, "zero": false}, "axis": {"orient": "right", "values": [0, 0.267, 0.533, 0.8, 1.066, 1.333], "format": ".3f", "grid": false, "labelPadding": 10, "title": "[photons cm⁻³ s⁻¹]", "titleAngle": 270, "titlePadding": 13}},
     "color": {"field": "l", "type": "nominal", "scale": {"domain": ["1","2","3","4","5"], "range": ["#bfc8f4","#d4738c","#4f7b2d","#1c3c4c","#858585"]}, "legend": null}
    }
   },
   {"width": 91, "height": 435, "view": {"stroke": null}, "data": {"values": [{"a": 0}]}, "mark": {"type": "point", "opacity": 0}},
   {
    "width": 490, "height": 435,
    "title": {"text": "P̂ estimated volume emission rate", "offset": 5},
    "data": {"name": "p4"},
    "mark": {"type": "line", "clip": true, "strokeWidth": 1.8},
    "encoding": {
     "x": {"field": "x", "type": "quantitative", "scale": {"domain": [-3.8, 7.11], "nice": false, "zero": false}, "axis": {"values": [-3,-2,-1,0,1,2,3,4,5,6,7], "format": "d", "title": "B⊥ [km]", "labelPadding": 9, "titlePadding": 3}},
     "y": {"field": "y", "type": "quantitative", "scale": {"domain": [89.6, 994], "nice": false, "zero": false}, "axis": {"values": [100,200,300,400,500,600,700,800,900], "title": "B∥ [km]", "labelPadding": 10, "titleX": -37}},
     "color": {"field": "l", "type": "nominal", "scale": {"domain": ["1","2","3","4","5"], "range": ["#bfc8f4","#d4738c","#4f7b2d","#1c3c4c","#858585"]}, "legend": null},
     "detail": {"field": "s"},
     "order": {"field": "i", "type": "quantitative"}
    }
   },
   {"width": 13, "height": 435, "view": {"stroke": null}, "data": {"values": [{"a": 0}]}, "mark": {"type": "point", "opacity": 0}},
   {
    "width": 21, "height": 435,
    "title": {"text": "×10⁸", "anchor": "start", "dx": -17, "fontSize": 10, "offset": 2, "color": "#555555"},
    "data": {"name": "cb4"},
    "mark": {"type": "rule", "strokeWidth": 2},
    "encoding": {
     "y": {"field": "v", "type": "quantitative", "scale": {"domain": [0, 5.208], "nice": false, "zero": false}, "axis": {"orient": "right", "values": [0, 1.042, 2.083, 3.125, 4.167, 5.208], "format": ".3f", "grid": false, "labelPadding": 10, "title": "[photons cm⁻³ s⁻¹]", "titleAngle": 270, "titlePadding": 13}},
     "color": {"field": "l", "type": "nominal", "scale": {"domain": ["1","2","3","4","5"], "range": ["#bfc8f4","#d4738c","#4f7b2d","#1c3c4c","#858585"]}, "legend": null}
    }
   }
  ]
 },
 {
  "width": 602, "height": 426,
  "title": {"text": "Observer Intensity", "offset": -9},
  "layer": [
   {
    "data": {"name": "p5"},
    "mark": {"type": "line", "clip": true, "strokeWidth": 2.5},
    "encoding": {
     "x": {"field": "x", "type": "quantitative", "scale": {"domain": [83.54, 94.51], "nice": false, "zero": false}, "axis": {"values": [84,85,86,87,88,89,90,91,92,93,94], "format": "d", "title": "local view angle [deg.]", "labelPadding": 8, "titlePadding": 2}},
     "y": {"field": "y", "type": "quantitative", "scale": {"domain": [0, 1.469], "nice": false}, "axis": {"values": [0,0.2,0.4,0.6,0.8,1.0,1.2,1.4], "format": ".1f", "title": "br [photons sr⁻¹ s⁻¹]", "labelPadding": 10, "titleX": -28}},
     "stroke": {"field": "c", "type": "nominal", "scale": {"domain": ["br,cam0","br,cam1"], "range": ["#4c72b0","#55a868"]}, "legend": {"orient": "top-left", "title": null, "symbolType": "stroke", "symbolSize": 800, "symbolStrokeWidth": 3, "clipHeight": 21, "labelFont": "DejaVu Serif", "labelFontStyle": "italic", "labelFontSize": 15, "labelColor": "#222222", "rowPadding": 0, "offset": 9, "labelOffset": 11}}
    }
   },
   {
    "data": {"values": [{"t": "×10³"}]},
    "mark": {"type": "text", "align": "left", "baseline": "bottom", "dy": -2, "fontSize": 10, "color": "#555555"},
    "encoding": {
     "x": {"datum": 83.54, "type": "quantitative"},
     "y": {"datum": 1.469, "type": "quantitative"},
     "text": {"field": "t"}
    }
   }
  ]
 }
]
}
